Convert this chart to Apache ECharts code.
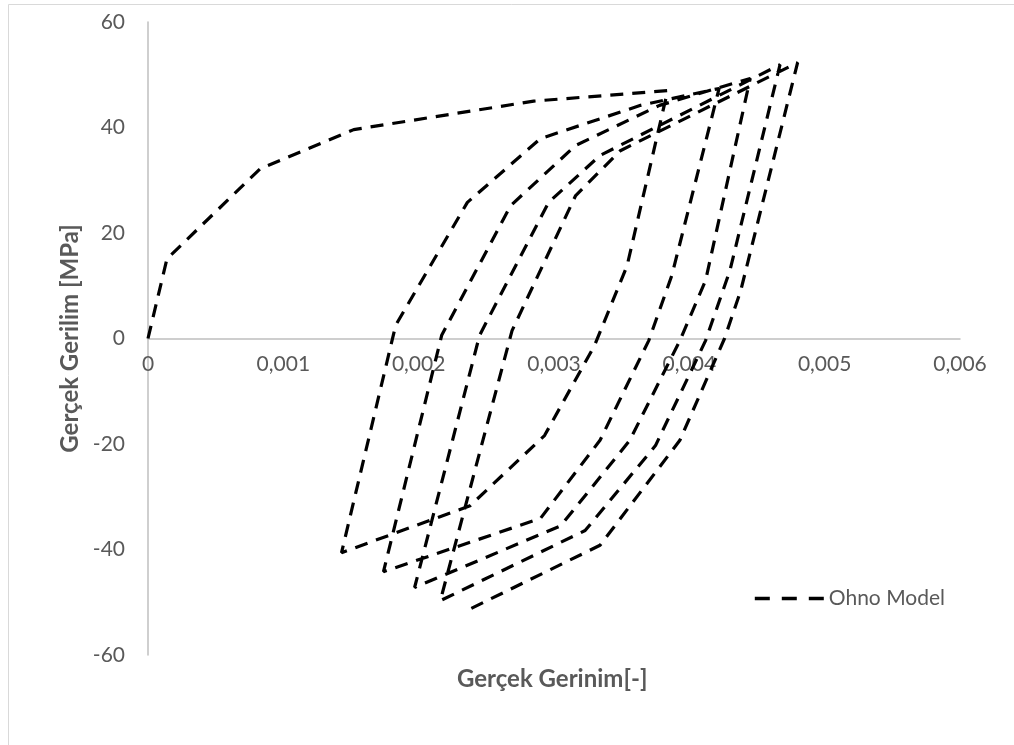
<!DOCTYPE html>
<html>
<head>
<meta charset="utf-8">
<title>Ohno Model</title>
<script src="https://cdn.jsdelivr.net/npm/echarts@6/dist/echarts.min.js"></script>
<style>
  html, body { margin: 0; padding: 0; background: #ffffff; }
  #chart { width: 1014px; height: 745px; }
</style>
</head>
<body>
<div id="chart"></div>
<script>
// Cyclic stress-strain response (ratcheting), one continuous path:
// initial loading, then five unloading / reloading branches.
const strain = [
  0, 0.00014, 0.00083, 0.00152, 0.00285, 0.00384,
  0.00354, 0.00330, 0.00293, 0.00238, 0.00143,
  0.00183, 0.00236, 0.00290, 0.00364, 0.00422,
  0.00387, 0.00370, 0.00334, 0.00290, 0.00174,
  0.00217, 0.00268, 0.00316, 0.00378, 0.00445,
  0.00412, 0.00393, 0.00356, 0.00305, 0.00197,
  0.00245, 0.00296, 0.00334, 0.00467,
  0.00430, 0.00412, 0.00375, 0.00323, 0.00216,
  0.00269, 0.00316, 0.00349, 0.00480,
  0.00438, 0.00426, 0.00393, 0.00334, 0.00233
];
const stress = [
  0, 15.1, 32.2, 39.6, 45.0, 47.0,
  13.8, -1.3, -18.4, -31.7, -40.6,
  2.5, 25.8, 37.9, 44.2, 47.4,
  11.9, -0.4, -19.3, -34.1, -44.2,
  0.6, 25.2, 36.6, 44.2, 49.3,
  11.0, -0.4, -19.3, -35.5, -47.2,
  0.6, 25.8, 34.7, 51.9,
  12.9, -0.4, -20.3, -36.4, -49.7,
  1.5, 27.1, 35.6, 52.3,
  9.1, 0, -19.3, -39.2, -51.9
];
const seriesName = 'Ohno Model';
const xTitle = 'Gerçek Gerinim[-]';
const yTitle = 'Gerçek Gerilim [MPa]';

const points = strain.map((x, i) => [x, stress[i]]);

const FONT = 'Lato';
const GREY = '#595959';
const AXIS = '#bfbfbf';

// plot area
const GRID = { left: 148, right: 54, top: 22, bottom: 90 };
const plotH = 745 - GRID.top - GRID.bottom;

const chart = echarts.init(document.getElementById('chart'), null, { renderer: 'canvas' });
chart.setOption({
  backgroundColor: '#ffffff',
  animation: false,
  grid: GRID,
  xAxis: {
    type: 'value',
    min: 0, max: 0.006, interval: 0.001,
    // horizontal axis (line and labels) sits on the zero-stress level
    offset: -plotH / 2,
    axisLine: { show: true, onZero: false, lineStyle: { color: AXIS, width: 1.5 } },
    axisTick: { show: false },
    splitLine: { show: false },
    axisLabel: {
      color: GREY, fontFamily: FONT, fontSize: 21, margin: 15,
      formatter: v => v === 0 ? '0' : v.toFixed(3).replace('.', ',')
    }
  },
  yAxis: {
    type: 'value',
    min: -60, max: 60, interval: 20,
    axisLine: { show: true, onZero: false, lineStyle: { color: AXIS, width: 1.5 } },
    axisTick: { show: false },
    splitLine: { show: false },
    axisLabel: { color: GREY, fontFamily: FONT, fontSize: 21, margin: 23 },
    name: yTitle,
    nameLocation: 'middle',
    nameRotate: 90,
    nameGap: 60,
    nameTextStyle: { color: GREY, fontFamily: FONT, fontSize: 24, fontWeight: 'bold' }
  },
  legend: {
    data: [seriesName],
    left: 748, top: 583,
    itemWidth: 69, itemHeight: 14, itemGap: 4,
    itemStyle: { opacity: 0 },
    lineStyle: { color: '#000000', width: 3.6, type: [15, 12], cap: 'butt' },
    textStyle: { color: GREY, fontFamily: FONT, fontSize: 21 }
  },
  graphic: [
    {
      type: 'rect', silent: true, z: -1,
      shape: { x: 8.5, y: 4.5, width: 1100, height: 800 },
      style: { fill: 'none', stroke: '#d9d9d9', lineWidth: 1 }
    },
    {
      type: 'text', left: 457, top: 667,
      style: { text: xTitle, fill: GREY, font: 'bold 24px Lato' }
    }
  ],
  series: [{
    name: seriesName,
    type: 'line',
    data: points,
    symbol: 'none',
    smooth: false,
    lineStyle: { color: '#000000', width: 3.2, type: [13, 9], cap: 'butt' },
    itemStyle: { color: '#000000' }
  }]
});
</script>
</body>
</html>
